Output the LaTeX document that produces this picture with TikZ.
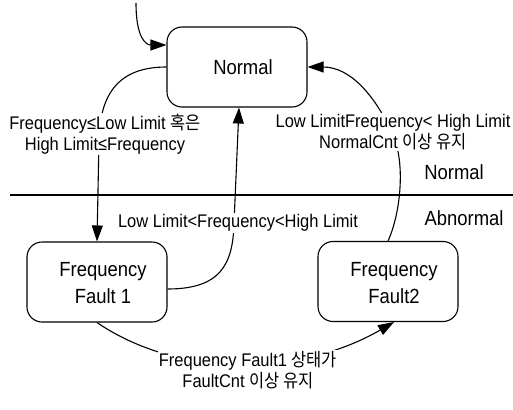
\documentclass[tikz,border=0pt]{standalone}
\usepackage{fontspec}
\setmainfont{Liberation Sans}[FakeStretch=0.9]
\newfontfamily\kr{Noto Sans CJK KR}[FakeStretch=0.9]
\usetikzlibrary{arrows.meta,calc}
\newcommand{\boxfont}{\fontsize{20.5}{27}\selectfont}
\newcommand{\labfont}{\fontsize{18.3}{21}\selectfont}
\begin{document}
\begin{tikzpicture}[x=1pt,y=-1pt,line width=1.1pt,
  state/.style={draw,rounded corners=15pt,minimum width=140pt,minimum height=80pt,inner sep=0pt},
  stext/.style={align=center,font=\boxfont,inner sep=0pt},
  lab/.style={align=center,font=\labfont,fill=white,inner sep=1pt},
  zone/.style={font=\boxfont,inner sep=0pt},
  arr/.style={-{Triangle[length=16pt,width=11pt]}}]
\useasboundingbox (0,0) rectangle (513,409);
% divider
\coordinate (dl) at (10,195);
\coordinate (dr) at (513,195);
\draw (dl) -- (dr);
% states (outlines)
\node[state] (n) at (237,67) {};
\node[state] (f1) at (97,282) {};
\node[state] (f2) at (388,281.5) {};
% connectors
\coordinate (init) at (136,3);
\draw[arr] (init) .. controls (136,38) and (146,45) .. ([yshift=22pt]n.west);
\draw[arr] (n.west) .. controls (122,67) and (100,90) .. (99,140) -- (f1.north);
\draw[arr] ([yshift=-7pt]f1.east) .. controls (220,289) and (233,265) .. (234,223) -- ([xshift=2pt]n.south);
\draw[arr] (f2.north) .. controls (400,215) and (406,165) .. (393,135) .. controls (375,95) and (350,67) .. (n.east);
\draw[arr] (f1.south) .. controls (180,379) and (301,376) .. ([xshift=6pt]f2.south);
% labels
\node[lab] (l1) at (105,134) {Frequency≤Low Limit {\kr 혹은}\\High Limit≤Frequency};
\node[lab] (l2) at (238,223) {Low Limit<Frequency<High Limit};
\node[lab] (l3) at (393,132) {Low LimitFrequency< High Limit\\NormalCnt {\kr 이상 유지}};
\node[lab] (l4) at (248,370) {Frequency Fault1 {\kr 상태가}\\FaultCnt {\kr 이상 유지}};
\node[zone] (zn) at (454,172) {Normal};
\node[zone] (za) at (464,218) {Abnormal};
% state texts
\node[stext] (nt) at ([xshift=6pt]n.center) {Normal};
\node[stext] (f1t) at ([xshift=6pt,yshift=-1.5pt]f1.center) {Frequency\\Fault 1};
\node[stext] (f2t) at ([xshift=6pt,yshift=-1.5pt]f2.center) {Frequency\\Fault2};
\end{tikzpicture}
\end{document}
